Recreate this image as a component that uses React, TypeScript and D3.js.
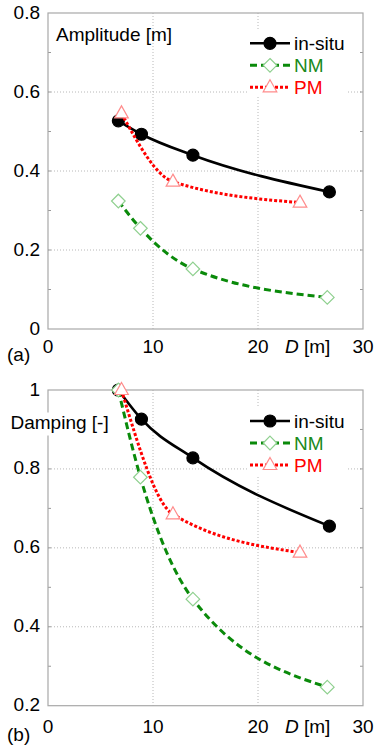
import React, { useEffect, useRef } from 'react'
import * as d3 from 'd3'

// distance D [m] of each measurement, per series
const dInsitu = [6.7, 8.9, 13.8, 26.8]
const dNM = [6.7, 8.8, 13.8, 26.6]
const dPM = [7.0, 11.9, 24.0]

// (a) amplitude [m]
const ampInsitu = [0.527, 0.493, 0.44, 0.347]
const ampNM = [0.324, 0.255, 0.152, 0.08]
const ampPM = [0.546, 0.373, 0.32]

// (b) damping [-]
const dampInsitu = [1.0, 0.926, 0.828, 0.655]
const dampNM = [1.0, 0.779, 0.47, 0.247]
const dampPM = [1.0, 0.685, 0.588]

const seriesNames = ['in-situ', 'NM', 'PM']
const dTicks = [0, 10, 20, 30]
const ampTicks = [0, 0.2, 0.4, 0.6, 0.8]
const dampTicks = [0.2, 0.4, 0.6, 0.8, 1]

const W = 376
const H = 746
const FONT = '"Liberation Sans", Arial, Helvetica, sans-serif'

const styles = [
    { line: '#000', dash: null as string | null, width: 2.6, marker: 'circle', mStroke: '#000', mFill: '#000', text: '#000' },
    { line: '#0a8a0a', dash: '7,4', width: 3, marker: 'diamond', mStroke: '#8fd08f', mFill: '#fff', text: '#1a8a1a' },
    { line: '#ff0000', dash: '3,2', width: 3, marker: 'triangle', mStroke: '#ff8c8c', mFill: '#fff', text: '#ff0000' },
]

type Panel = {
    top: number
    bottom: number
    yDomain: [number, number]
    yTicks: number[]
    series: { d: number[]; v: number[] }[]
    title: string
    titleX: number
    titleY: number
    titleBg: boolean
    legendY: number
    legendBox: [number, number]
    letter: string
    tickGap: number
}

export default function App() {
    const svgRef = useRef<SVGSVGElement>(null)

    useEffect(() => {
        if (!svgRef.current) return
        const svg = d3.select(svgRef.current)
        svg.selectAll('*').remove()

        const x = d3.scaleLinear().domain([0, 30]).range([48, 363])

        const panels: Panel[] = [
            {
                top: 13, bottom: 329, yDomain: [0, 0.8], yTicks: ampTicks,
                series: [
                    { d: dInsitu, v: ampInsitu },
                    { d: dNM, v: ampNM },
                    { d: dPM, v: ampPM },
                ],
                title: 'Amplitude [m]', titleX: 56, titleY: 40.5, titleBg: false,
                legendY: 43.3, legendBox: [30, 97], letter: '(a)', tickGap: 24,
            },
            {
                top: 390, bottom: 705.7, yDomain: [0.2, 1], yTicks: dampTicks,
                series: [
                    { d: dInsitu, v: dampInsitu },
                    { d: dNM, v: dampNM },
                    { d: dPM, v: dampPM },
                ],
                title: 'Damping [-]', titleX: 10.5, titleY: 428.5, titleBg: true,
                legendY: 421, legendBox: [407, 475], letter: '(b)', tickGap: 27.5,
            },
        ]

        const markerPath = (kind: string) => {
            if (kind === 'circle') return d3.symbol(d3.symbolCircle, 113)()
            if (kind === 'diamond') return 'M0,-6.8L6.8,0L0,6.8L-6.8,0Z'
            return 'M0,-7.5L6.8,4.5L-6.8,4.5Z'
        }

        panels.forEach(p => {
            const y = d3.scaleLinear().domain(p.yDomain).range([p.bottom, p.top])
            const g = svg.append('g')

            // dotted grid
            g.selectAll('.gx').data(dTicks.slice(1, -1)).enter().append('line')
                .attr('x1', d => x(d)).attr('x2', d => x(d))
                .attr('y1', p.top).attr('y2', p.bottom)
                .attr('stroke', '#b8b8b8').attr('stroke-width', 1).attr('stroke-dasharray', '1,2')
            g.selectAll('.gy').data(p.yTicks.slice(1, -1)).enter().append('line')
                .attr('x1', x(0)).attr('x2', x(30))
                .attr('y1', d => y(d)).attr('y2', d => y(d))
                .attr('stroke', '#b8b8b8').attr('stroke-width', 1).attr('stroke-dasharray', '1,2')

            // minor inward ticks on left and right
            const minor = d3.range(p.yDomain[0] + 0.1, p.yDomain[1], 0.1)
            minor.forEach(t => {
                g.append('line').attr('x1', x(0)).attr('x2', x(0) + 3)
                    .attr('y1', y(t)).attr('y2', y(t)).attr('stroke', '#999')
                g.append('line').attr('x1', x(30)).attr('x2', x(30) - 3)
                    .attr('y1', y(t)).attr('y2', y(t)).attr('stroke', '#999')
            })

            // frame
            g.append('rect')
                .attr('x', x(0)).attr('y', p.top)
                .attr('width', x(30) - x(0)).attr('height', p.bottom - p.top)
                .attr('fill', 'none').attr('stroke', '#a8a8a8').attr('stroke-width', 1.2)

            // tick labels
            g.selectAll('.yl').data(p.yTicks).enter().append('text')
                .attr('x', 40).attr('y', d => y(d) + 5.5)
                .attr('text-anchor', 'end')
                .attr('font-family', FONT).attr('font-size', 19)
                .text(d => d3.format('~g')(d))
            g.selectAll('.xl').data(dTicks).enter().append('text')
                .attr('x', d => x(d)).attr('y', p.bottom + p.tickGap)
                .attr('text-anchor', 'middle')
                .attr('font-family', FONT).attr('font-size', 19)
                .text(d => String(d))
            const dl = g.append('text').attr('x', 285).attr('y', p.bottom + p.tickGap)
                .attr('font-family', FONT).attr('font-size', 19)
            dl.append('tspan').attr('font-style', 'italic').text('D')
            dl.append('tspan').text(' [m]')
            g.append('text').attr('x', 7).attr('y', p.bottom + p.tickGap + 8)
                .attr('font-family', FONT).attr('font-size', 19)
                .text(p.letter)

            // series
            p.series.forEach((s, i) => {
                const st = styles[i]
                const pts = s.d.map((d, k) => [d, s.v[k]] as [number, number])
                const line = d3.line<[number, number]>()
                    .x(d => x(d[0])).y(d => y(d[1]))
                    .curve(d3.curveMonotoneX)
                g.append('path').attr('d', line(pts))
                    .attr('fill', 'none').attr('stroke', st.line)
                    .attr('stroke-width', st.width)
                    .attr('stroke-dasharray', st.dash)
                g.selectAll('.m' + i).data(pts).enter().append('path')
                    .attr('d', markerPath(st.marker))
                    .attr('transform', d => `translate(${x(d[0])},${y(d[1])})`)
                    .attr('fill', st.mFill).attr('stroke', st.mStroke).attr('stroke-width', 1.2)
            })

            // title
            if (p.titleBg) {
                g.append('rect').attr('x', p.titleX - 1).attr('y', p.titleY - 16)
                    .attr('width', 101).attr('height', 23).attr('fill', '#fff')
            }
            g.append('text').attr('x', p.titleX).attr('y', p.titleY)
                .attr('font-family', FONT).attr('font-size', 19)
                .text(p.title)

            // legend
            g.append('rect').attr('x', 247).attr('y', p.legendBox[0])
                .attr('width', 100).attr('height', p.legendBox[1] - p.legendBox[0])
                .attr('fill', '#fff')
            seriesNames.forEach((name, i) => {
                const st = styles[i]
                const ly = p.legendY + i * 22
                g.append('line').attr('x1', 250).attr('x2', 290)
                    .attr('y1', ly).attr('y2', ly)
                    .attr('stroke', st.line).attr('stroke-width', st.width)
                    .attr('stroke-dasharray', st.dash)
                g.append('path').attr('d', markerPath(st.marker))
                    .attr('transform', `translate(270,${ly})`)
                    .attr('fill', st.mFill).attr('stroke', st.mStroke).attr('stroke-width', 1.2)
                g.append('text').attr('x', 294).attr('y', ly + 7)
                    .attr('font-family', FONT).attr('font-size', 19)
                    .attr('fill', st.text)
                    .text(name)
            })
        })
    }, [])

    return (
        <svg ref={svgRef} width={W} height={H} viewBox={`0 0 ${W} ${H}`}
            style={{ position: 'absolute', left: 0, top: 0, background: '#fff' }} />
    )
}
